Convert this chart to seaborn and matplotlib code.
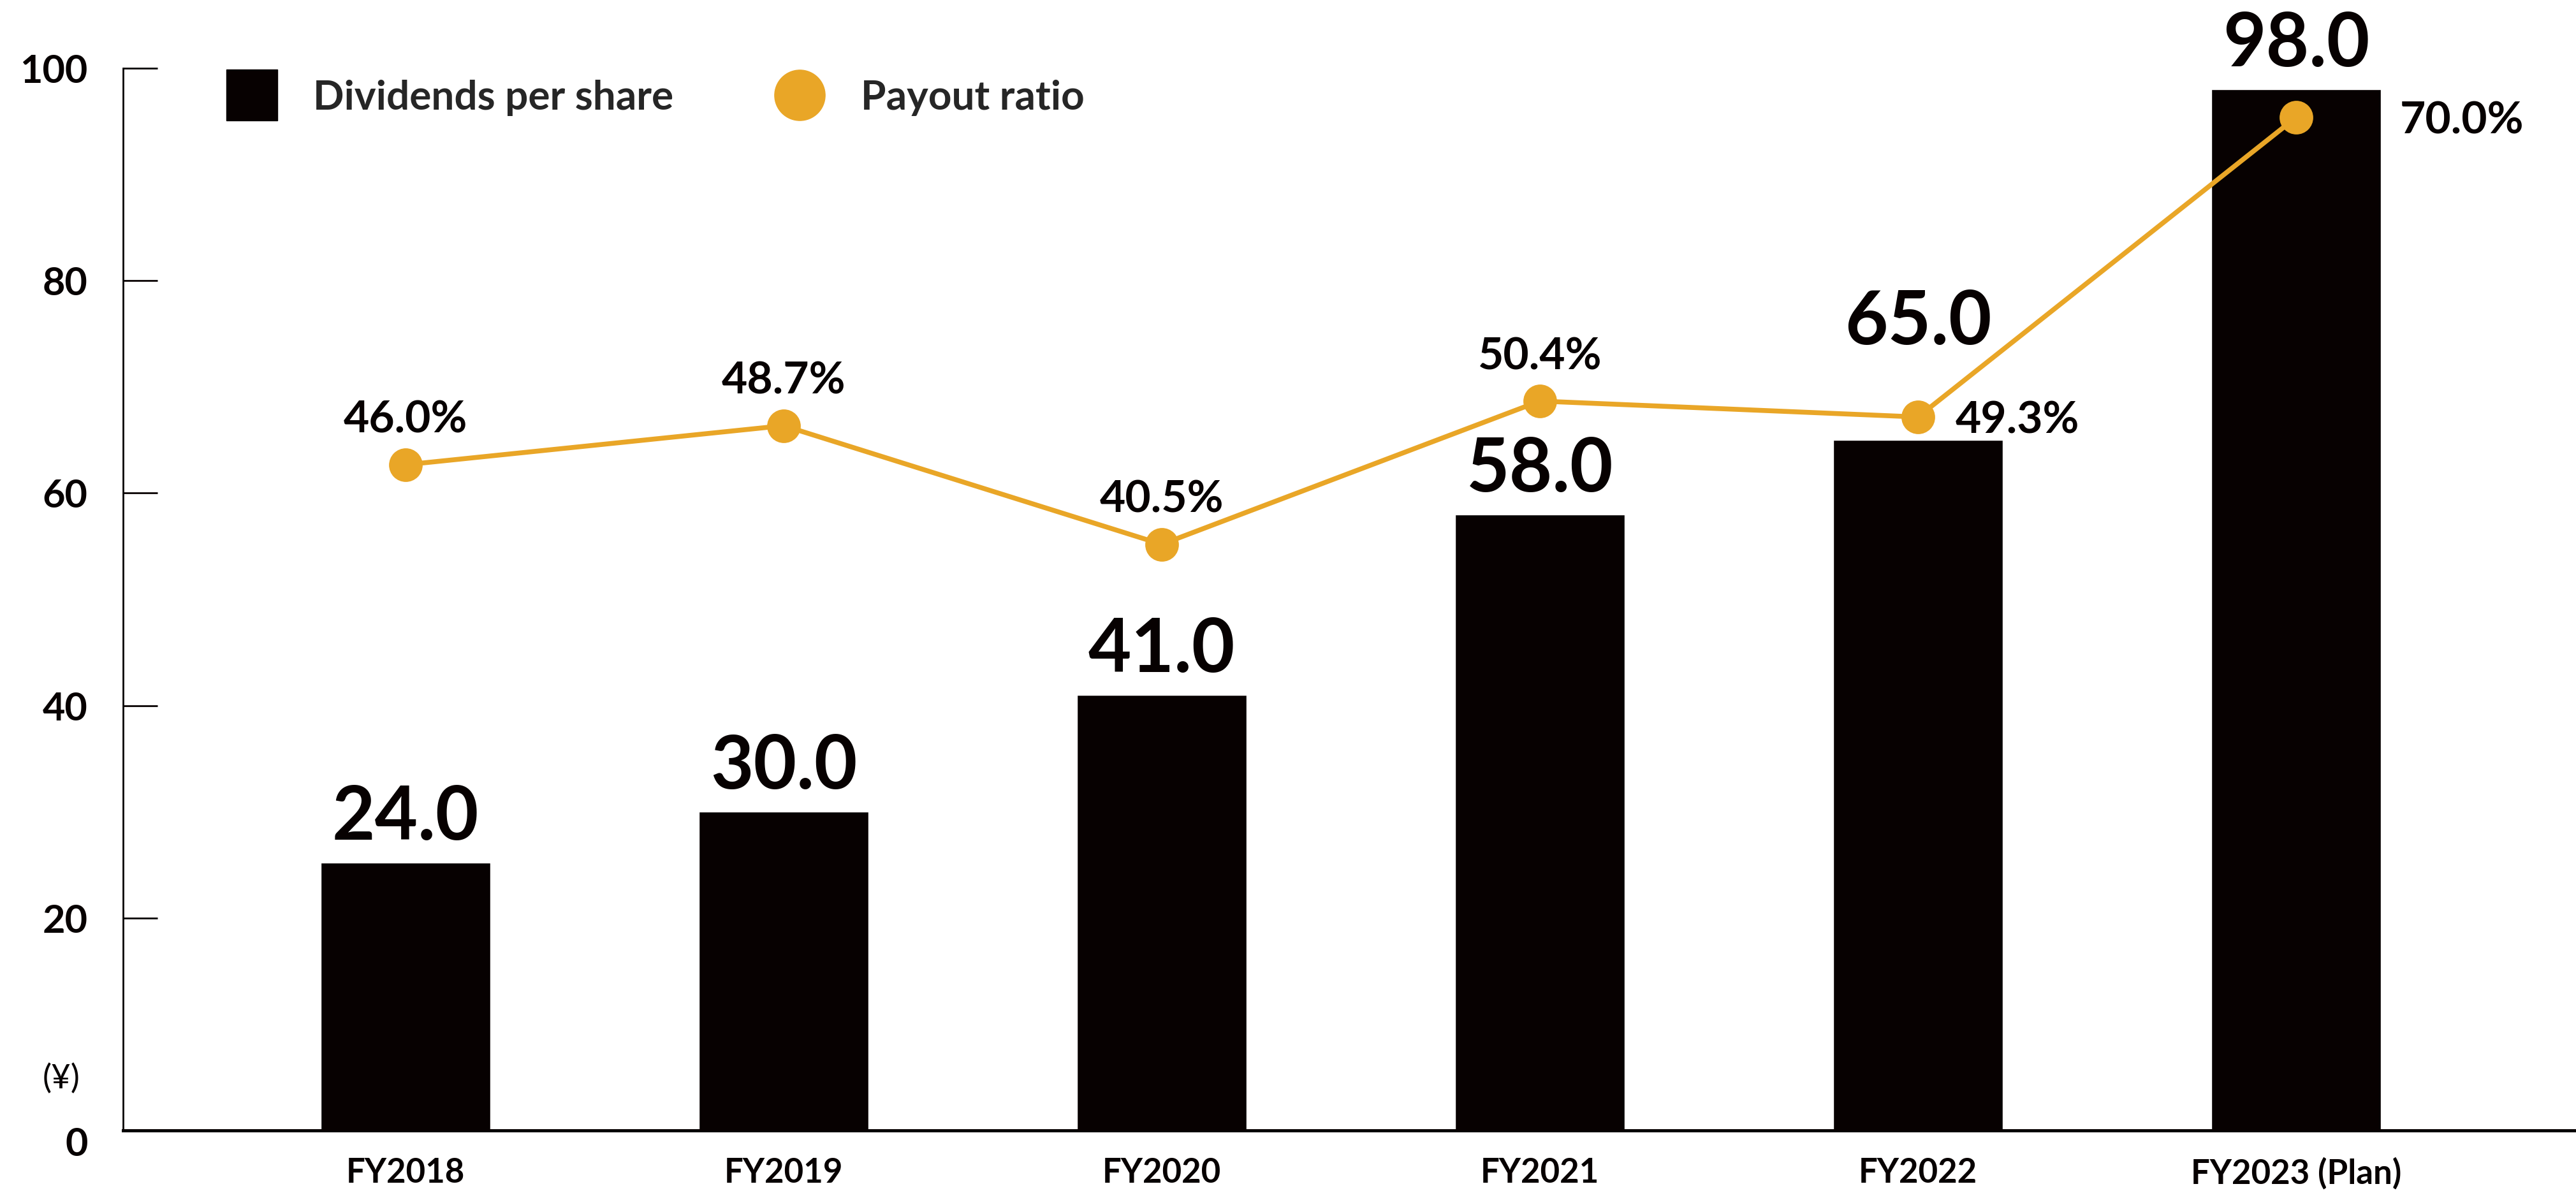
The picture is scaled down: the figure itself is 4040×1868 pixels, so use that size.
import matplotlib
matplotlib.use("Agg")
import matplotlib.pyplot as plt
import matplotlib.transforms as mtrans
from matplotlib.lines import Line2D
import seaborn as sns
import pandas as pd

years = ["FY2018", "FY2019", "FY2020", "FY2021", "FY2022", "FY2023 (Plan)"]
dividends = [25.2, 30.0, 41.0, 58.0, 65.0, 98.0]
dividend_labels = ["24.0", "30.0", "41.0", "58.0", "65.0", "98.0"]
payout = [46.0, 48.7, 40.5, 50.4, 49.3, 70.0]
payout_labels = ["46.0%", "48.7%", "40.5%", "50.4%", "49.3%", "70.0%"]
yticks = [0, 20, 40, 60, 80, 100]

BAR = "#070101"
ORANGE = "#E9A627"

sns.set_style("white")
plt.rcParams["font.family"] = ["Lato", "DejaVu Sans"]
plt.rcParams["font.weight"] = "bold"

df = pd.DataFrame({"year": years, "dividend": dividends, "payout": payout})

fig = plt.figure(figsize=(40.41, 18.68), dpi=100)
ax = fig.add_axes([193 / 4041, 1 - 1773 / 1868, 1 - 193 / 4041, (1773 - 107) / 1868])

sns.barplot(data=df, x="year", y="dividend", color=BAR, saturation=1,
            width=0.45, ax=ax, zorder=2)
ax.set_ylim(0, 100)
ax.set_xlim(-0.747, 5.742)
ax.set_yticks(yticks)
ax.set_xlabel("")
ax.set_ylabel("")
for s in ["top", "right"]:
    ax.spines[s].set_visible(False)
ax.spines["left"].set_linewidth(2)
ax.spines["left"].set_color(BAR)
ax.spines["bottom"].set_linewidth(3.6)
ax.spines["bottom"].set_color(BAR)
ax.tick_params(axis="y", direction="in", length=39, width=2, pad=40,
               labelsize=44, colors=BAR)
ax.tick_params(axis="x", length=0, pad=30, labelsize=38, colors=BAR)
# the "0" label sits a bit below the baseline
lab0 = ax.get_yticklabels()[0]
lab0.set_transform(lab0.get_transform() +
                   mtrans.ScaledTranslation(0, -0.17, fig.dpi_scale_trans))

# 65.0 is lifted above the payout marker
label_lift = [26, 26, 26, 26, 108, 26]
for i, (v, t) in enumerate(zip(dividends, dividend_labels)):
    ax.annotate(t, (i, v), xytext=(0, label_lift[i]), textcoords="offset points",
                ha="center", va="baseline", fontsize=84, fontweight="bold",
                color=BAR, annotation_clip=False)

ax2 = ax.twinx()
sns.lineplot(data=df, x="year", y="payout", sort=False, color=ORANGE,
             linewidth=5.5, marker="o", markersize=38, markeredgewidth=0,
             ax=ax2)
ax2.set_ylim(0, 73.4)
ax2.set_xlim(-0.747, 5.742)
ax2.axis("off")

offsets = [(0, 36, "center", "baseline"), (0, 36, "center", "baseline"),
           (0, 36, "center", "baseline"), (0, 36, "center", "baseline"),
           (42, 0, "left", "center_baseline"), (117, 0, "left", "center_baseline")]
for i, (p, t) in enumerate(zip(payout, payout_labels)):
    dx, dy, ha, va = offsets[i]
    ax2.annotate(t, (i, p), xytext=(dx, dy), textcoords="offset points",
                 ha=ha, va=va, fontsize=50, fontweight="bold", color=BAR,
                 annotation_clip=False)

fig.text(96 / 4041, 1 - 1692 / 1868, "(¥)", ha="center", va="center",
         fontsize=38, fontweight="normal", color=BAR)

handles = [Line2D([], [], marker="s", ls="none", color=BAR, markersize=57),
           Line2D([], [], marker="o", ls="none", color=ORANGE, markersize=57)]
ax2.legend(handles, ["Dividends per share", "Payout ratio"], ncol=2,
           loc="center left", bbox_to_anchor=(350 / 4041, 1 - 153 / 1868),
           bbox_transform=fig.transFigure, frameon=False, fontsize=46,
           handlelength=1.4, handletextpad=0.8, columnspacing=2.4,
           borderpad=0, borderaxespad=0)

fig.savefig("out.png", dpi=100)
